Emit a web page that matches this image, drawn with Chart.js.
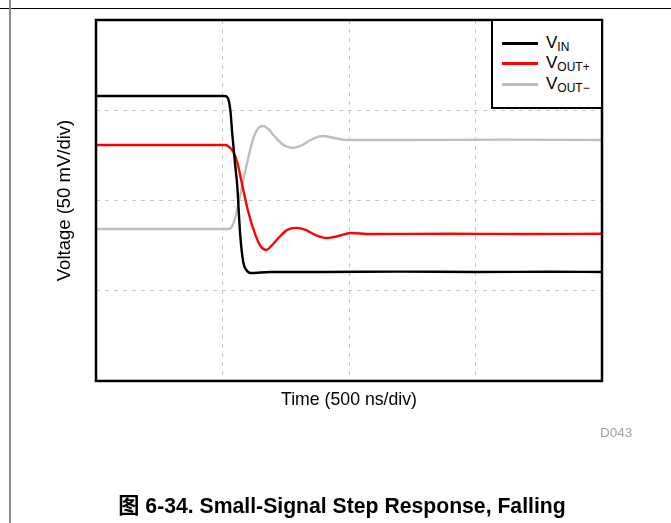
<!DOCTYPE html>
<html>
<head>
<meta charset="utf-8">
<script src="https://cdn.jsdelivr.net/npm/chart.js@4/dist/chart.umd.min.js"></script>
<style>
  html, body { margin:0; padding:0; background:#fff; }
  body { width:671px; height:523px; position:relative; overflow:hidden; font-family:"Liberation Sans", Arial, sans-serif; }
  #wrap { position:absolute; left:0; top:0; width:671px; height:523px; }
  #topline { position:absolute; left:0; top:8px; width:671px; height:1px; background:#000; }
  #leftline { position:absolute; left:9px; top:0; width:2px; height:523px; background:#8a8a8a; }
  #legend { position:absolute; left:491px; top:19px; width:108px; height:86px; border:2.5px solid #000; background:#fff; }
  .li { position:absolute; left:0; height:20px; width:108px; }
  .sw { position:absolute; left:9px; width:36px; height:3px; }
  .lt { position:absolute; left:53px; font-size:17px; color:#000; white-space:nowrap; line-height:20px; }
  .lt sub { font-size:12px; vertical-align:-3px; line-height:0; }
  #code { position:absolute; left:600px; top:425px; font-size:13.5px; color:#a0a0a0; }
  #caption { position:absolute; left:0; width:684px; top:488px; text-align:center; font-weight:bold; font-size:21.2px; color:#000; font-family:"Liberation Sans", Arial, "Noto Sans CJK SC", sans-serif; }
</style>
</head>
<body>
<div id="wrap"><canvas id="c" width="671" height="523"></canvas></div>
<div id="topline"></div>
<div id="leftline"></div>
<div id="legend">
  <div class="li" style="top:12px"><div class="sw" style="top:9px;background:#000"></div><div class="lt">V<sub>IN</sub></div></div>
  <div class="li" style="top:32px"><div class="sw" style="top:9px;background:#ff0000"></div><div class="lt">V<sub>OUT+</sub></div></div>
  <div class="li" style="top:53px"><div class="sw" style="top:9px;background:#bebebe"></div><div class="lt">V<sub>OUT&minus;</sub></div></div>
</div>
<div id="code">D043</div>
<div id="caption">图 6-34. Small-Signal Step Response, Falling</div>
<script>
// Time in ns (500 ns/div), voltage in mV (50 mV/div)
const seriesNames = ["VIN", "VOUT+", "VOUT-"];
const xTickStep = 500;
const yTickStep = 50;

const vinTime  = [0, 214, 412, 507, 519, 531, 539, 550, 558, 570, 582, 594, 610, 689, 900, 1200, 1500, 1800, 2000];
const vinValue = [157.9, 157.9, 157.9, 157.9, 157.3, 150.1, 136.3, 119.7, 108.6, 80.9, 65.9, 61.5, 59.8, 60.4, 60.4, 60.6, 60.4, 60.5, 60.4];

const voutPTime  = [0, 250, 511, 527, 543, 558, 578, 602, 630, 650, 673, 693, 721, 756, 792, 828, 867, 911, 958, 1006, 1085, 1400, 1700, 2000];
const voutPValue = [130.7, 130.7, 130.7, 129.6, 126.9, 121.3, 108.6, 93.6, 80.9, 74.8, 72.6, 74.8, 79.2, 83.7, 84.8, 83.7, 80.9, 79.2, 80.3, 82.0, 81.4, 81.6, 81.4, 81.6];

const voutNTime  = [0, 250, 523, 539, 550, 570, 598, 622, 642, 661, 681, 701, 741, 776, 808, 848, 895, 943, 986, 1204, 1600, 2000];
const voutNValue = [84.2, 84.2, 84.2, 85.9, 90.3, 103.0, 121.3, 134.6, 140.2, 141.3, 139.6, 136.3, 130.7, 129.1, 130.2, 133.5, 135.7, 134.6, 133.5, 133.5, 133.7, 133.5];

function pts(t, v) { return t.map((x, i) => ({ x: x, y: v[i] })); }

const frame = {
  id: 'frame',
  afterDatasetsDraw(chart) {
    const a = chart.chartArea, ctx = chart.ctx;
    ctx.save();
    ctx.strokeStyle = '#000';
    ctx.lineWidth = 2.5;
    ctx.strokeRect(a.left, a.top, a.right - a.left, a.bottom - a.top);
    ctx.restore();
  }
};

const gridOpts = { color: '#c8c8c8', lineWidth: 1, drawTicks: false };

new Chart(document.getElementById('c'), {
  type: 'line',
  data: {
    datasets: [
      { label: seriesNames[0], data: pts(vinTime, vinValue), borderColor: '#000000', borderWidth: 2.4, pointRadius: 0, cubicInterpolationMode: 'monotone', order: 1 },
      { label: seriesNames[1], data: pts(voutPTime, voutPValue), borderColor: '#ff0000', borderWidth: 2.4, pointRadius: 0, cubicInterpolationMode: 'monotone', order: 2 },
      { label: seriesNames[2], data: pts(voutNTime, voutNValue), borderColor: '#bebebe', borderWidth: 2.4, pointRadius: 0, cubicInterpolationMode: 'monotone', order: 3 }
    ]
  },
  options: {
    responsive: false,
    animation: false,
    events: [],
    layout: { padding: { left: 54.2, top: 20, right: 69, bottom: 112 } },
    plugins: { legend: { display: false }, tooltip: { enabled: false } },
    scales: {
      x: {
        type: 'linear', min: 0, max: 2000,
        ticks: { display: false, stepSize: xTickStep },
        grid: gridOpts,
        border: { display: false, dash: [4, 5] },
        title: { display: true, text: 'Time (500 ns/div)', color: '#000', font: { family: 'Liberation Sans', size: 17.7 }, padding: { top: 8.8, bottom: 0 } }
      },
      y: {
        type: 'linear', min: 0, max: 200,
        ticks: { display: false, stepSize: yTickStep },
        grid: gridOpts,
        border: { display: false, dash: [4, 5] },
        title: { display: true, text: 'Voltage (50 mV/div)', color: '#000', font: { family: 'Liberation Sans', size: 18.5 }, padding: { top: 0, bottom: 19.6 } }
      }
    }
  },
  plugins: [frame]
});
</script>
</body>
</html>
